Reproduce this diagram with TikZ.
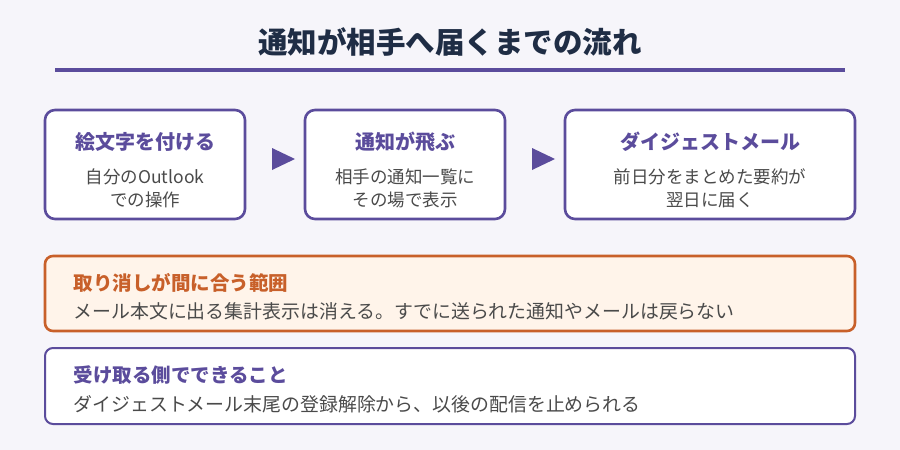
\documentclass[tikz,border=0pt]{standalone}
\usepackage{fontspec}
\setmainfont{Noto Sans CJK JP}
\definecolor{bg}{HTML}{F6F5FA}
\definecolor{navy}{HTML}{1F2D45}
\definecolor{purp}{HTML}{5B4C9C}
\definecolor{orng}{HTML}{C8602A}
\definecolor{orfill}{HTML}{FFF4EA}
\definecolor{txt}{HTML}{4A4A4A}
\tikzset{
  stepbox/.style={draw=purp, line width=2.6pt, rounded corners=10pt, fill=white},
  steptitle/.style={font=\fontsize{20}{24}\selectfont\bfseries, text=purp},
  stepsub/.style={font=\fontsize{17.5}{23}\selectfont, text=txt, align=center},
  tri/.style={fill=purp},
  notetitle/.style={anchor=west, font=\fontsize{19.5}{22}\selectfont\bfseries},
  notebody/.style={anchor=west, font=\fontsize{18.9}{22}\selectfont, text=txt},
}
\begin{document}
\begin{tikzpicture}[x=1pt,y=-1pt]
\useasboundingbox[fill=bg] (0,0) rectangle (900,450);
\node[font=\fontsize{29.5}{34}\selectfont\bfseries, text=navy] (title) at (450,42) {通知が相手へ届くまでの流れ};
\draw[purp, line width=4pt] (55,70) -- (845,70);
% step boxes
\draw[stepbox] (45,110) rectangle (245,219);
\draw[stepbox] (305,110) rectangle (505,219);
\draw[stepbox] (565,110) rectangle (855,219);
\node[steptitle] (t1) at (145,142) {絵文字を付ける};
\node[stepsub] (s1) at (145,188) {自分のOutlook\\での操作};
\node[steptitle] (t2) at (405,142) {通知が飛ぶ};
\node[stepsub] (s2) at (405,188) {相手の通知一覧に\\その場で表示};
\node[steptitle] (t3) at (710,142) {ダイジェストメール};
\node[stepsub] (s3) at (710,188) {前日分をまとめた要約が\\翌日に届く};
\fill[tri] (272,148) -- (295,159) -- (272,170) -- cycle;
\fill[tri] (532,148) -- (555,159) -- (532,170) -- cycle;
% note boxes
\draw[draw=orng, fill=orfill, line width=2.6pt, rounded corners=8pt] (45,256) rectangle (855,331);
\node[notetitle, text=orng] (n1t) at (70,283) {取り消しが間に合う範囲};
\node[notebody] (n1b) at (70,311) {メール本文に出る集計表示は消える。すでに送られた通知やメールは戻らない};
\draw[draw=purp, fill=white, line width=2pt, rounded corners=8pt] (45,348) rectangle (855,424);
\node[notetitle, text=purp] (n2t) at (70,375) {受け取る側でできること};
\node[notebody] (n2b) at (70,404) {ダイジェストメール末尾の登録解除から、以後の配信を止められる};
\end{tikzpicture}
\end{document}
